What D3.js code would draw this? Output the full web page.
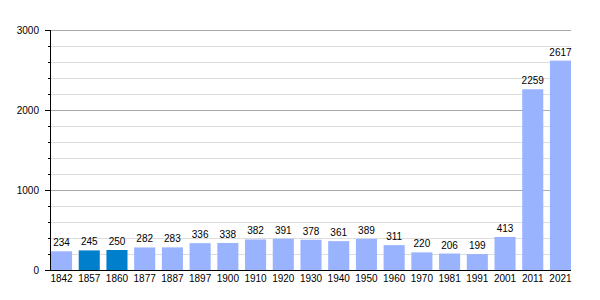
<!DOCTYPE html>
<html>
<head>
<meta charset="utf-8">
<script src="https://cdn.jsdelivr.net/npm/d3@7"></script>
<style>
  html,body{margin:0;padding:0;background:#fff;}
  svg{display:block;font-family:"Liberation Sans",Arial,sans-serif;}
</style>
</head>
<body>
<div id="chart"></div>
<script>
const years=['1842','1857','1860','1877','1887','1897','1900','1910','1920','1930','1940','1950','1960','1970','1981','1991','2001','2011','2021'];
const population=[234,245,250,282,283,336,338,382,391,378,361,389,311,220,206,199,413,2259,2617];
const highlighted=['1857','1860'];
const yTicks=[0,1000,2000,3000];

const W=600,H=300,m={t:30,r:29,b:30,l:50};
const w=W-m.l-m.r,h=H-m.t-m.b;
const svg=d3.select('#chart').append('svg').attr('width',W).attr('height',H);
const g=svg.append('g').attr('transform',`translate(${m.l},${m.t})`);

const data=years.map((y,i)=>({year:y,value:population[i]}));
const x=d3.scaleBand().domain(years).range([1,w]).paddingInner(0.24).paddingOuter(0);
const y=d3.scaleLinear().domain([0,3000]).range([h,0]);

// minor grid
g.append('g').selectAll('line').data(d3.range(200,3000,200).filter(v=>v%1000!==0)).join('line')
  .attr('x1',0).attr('x2',w).attr('y1',d=>y(d)+.5).attr('y2',d=>y(d)+.5)
  .attr('stroke','#dddddd').attr('stroke-width',1);
// major grid
g.append('g').selectAll('line').data(yTicks.filter(v=>v>0)).join('line')
  .attr('x1',0).attr('x2',w).attr('y1',d=>y(d)+.5).attr('y2',d=>y(d)+.5)
  .attr('stroke','#aaaaaa').attr('stroke-width',1);

// bars
g.selectAll('.bar').data(data).join('rect').attr('class','bar')
  .attr('x',d=>x(d.year)).attr('width',x.bandwidth())
  .attr('y',d=>y(d.value)).attr('height',d=>h-y(d.value))
  .attr('fill',d=>highlighted.includes(d.year)?'#0080cc':'#99b3ff');

// value labels
g.selectAll('.val').data(data).join('text').attr('class','val')
  .attr('x',d=>x(d.year)+x.bandwidth()/2).attr('y',d=>y(d.value)-5)
  .attr('text-anchor','middle').attr('font-size',10).attr('fill','#000')
  .text(d=>d.value);

// y axis
const ya=g.append('g');
ya.append('line').attr('x1',.5).attr('x2',.5).attr('y1',0).attr('y2',h).attr('stroke','#000');
ya.selectAll('.mt').data(d3.range(0,3001,200)).join('line').attr('class','mt')
  .attr('x1',d=>d%1000===0?-5:-2).attr('x2',0).attr('y1',d=>y(d)+.5).attr('y2',d=>y(d)+.5)
  .attr('stroke','#000');
ya.selectAll('text').data(yTicks).join('text')
  .attr('x',-11).attr('y',d=>y(d)+4).attr('text-anchor','end').attr('font-size',10).attr('fill','#000')
  .text(d=>d);

// x axis
g.append('line').attr('x1',0).attr('x2',w).attr('y1',h+.5).attr('y2',h+.5).attr('stroke','#000');
g.selectAll('.xl').data(years).join('text').attr('class','xl')
  .attr('x',d=>x(d)+x.bandwidth()/2).attr('y',h+12)
  .attr('text-anchor','middle').attr('font-size',10).attr('fill','#000')
  .text(d=>d);
</script>
</body>
</html>
